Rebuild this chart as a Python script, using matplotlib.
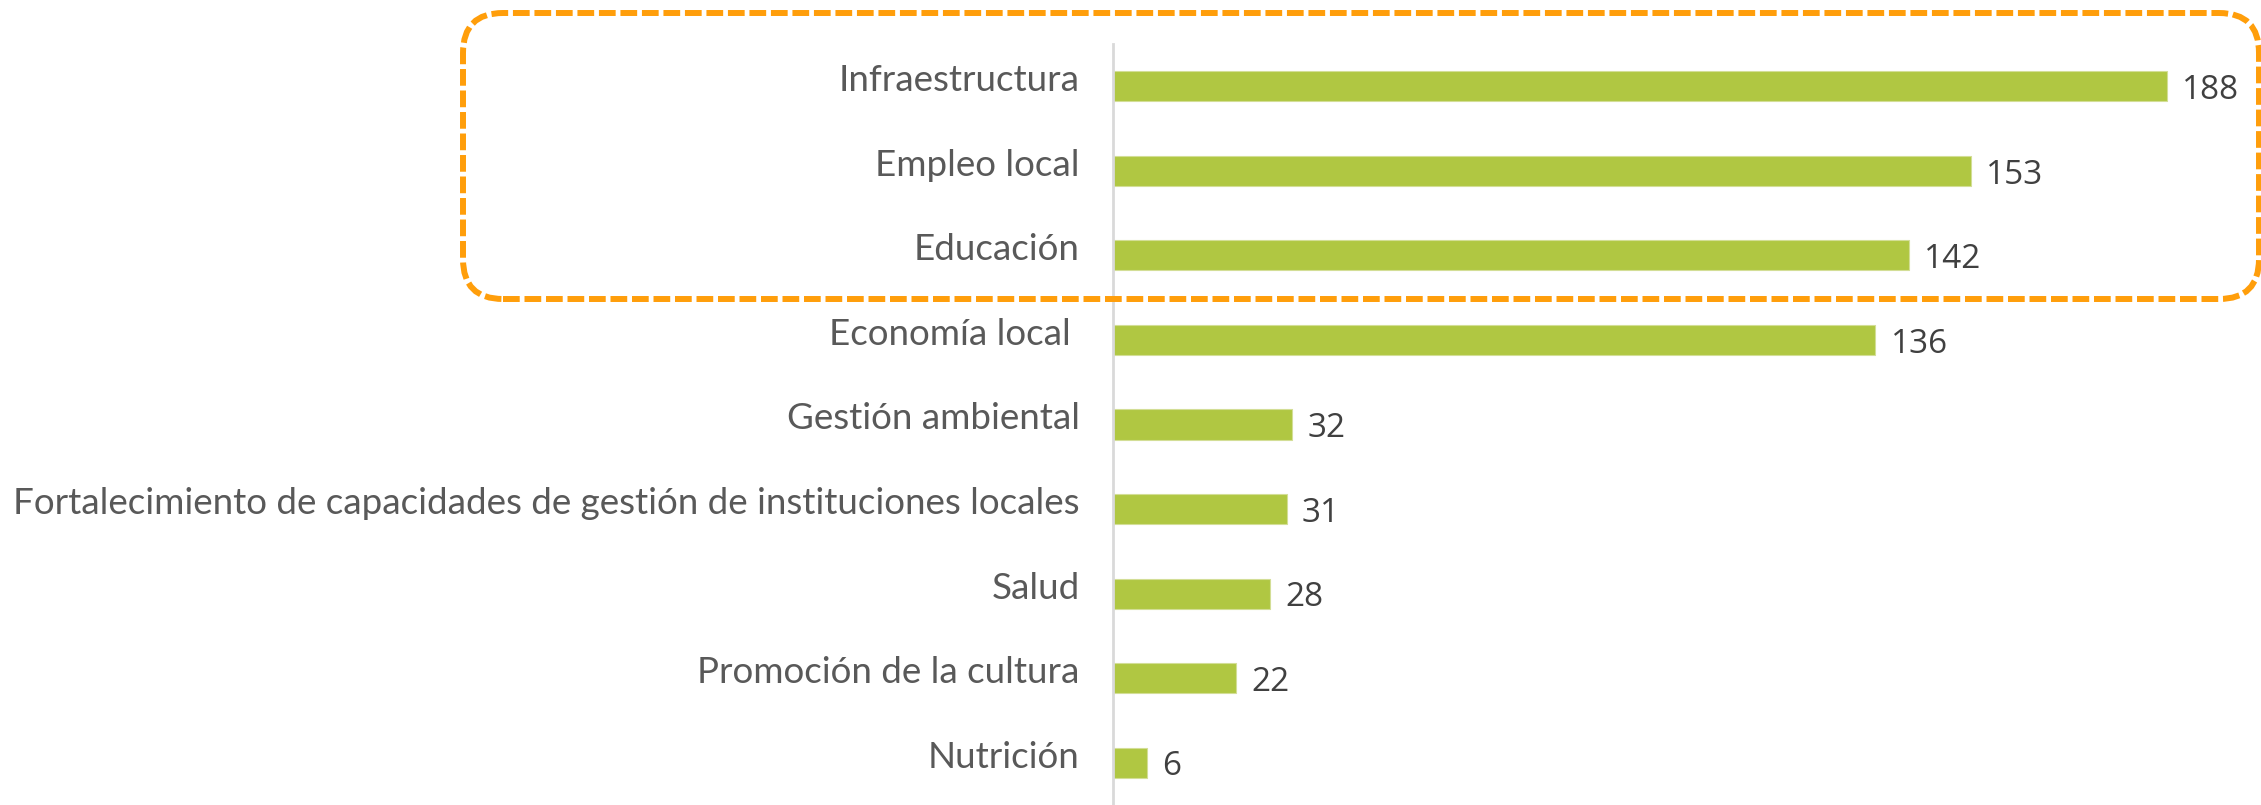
import matplotlib
matplotlib.use("Agg")
import matplotlib.pyplot as plt
from matplotlib.patches import FancyBboxPatch
from matplotlib.transforms import IdentityTransform

categories = ["Infraestructura", "Empleo local", "Educación", "Economía local ",
              "Gestión ambiental",
              "Fortalecimiento de capacidades de gestión de instituciones locales",
              "Salud", "Promoción de la cultura", "Nutrición"]
values = [188, 153, 142, 136, 32, 31, 28, 22, 6]

W, H = 2261, 805
fig = plt.figure(figsize=(W / 100, H / 100), dpi=100)
ax = fig.add_axes([1113 / W, 0.0, 1121 / W, 1 - 44 / H])

pos = list(range(len(categories)))
ax.barh(pos, values, height=0.355, color="#B0C742", edgecolor="#D3DE96", linewidth=0.8)
ax.set_ylim(len(categories) - 0.5, -0.5)
ax.set_xlim(0, 200)

ax.set_yticks([])
ax.set_xticks([])
for s in ["top", "right", "bottom"]:
    ax.spines[s].set_visible(False)
ax.spines["left"].set_color("#D9D9D9")
ax.spines["left"].set_linewidth(2)

ytrans = ax.get_yaxis_transform()
for p, c in zip(pos, categories):
    ax.annotate(c, xy=(0, p), xycoords=ytrans, xytext=(-24, 4), textcoords="offset points",
                va="center", ha="right", fontsize=26.5, color="#595959",
                family="Lato", fontweight="normal")

for p, v in zip(pos, values):
    ax.annotate(str(v), xy=(v, p), xytext=(11, -3), textcoords="offset points",
                va="center", ha="left", fontsize=24, color="#404040", family="Open Sans")

box = FancyBboxPatch((463, 506), 1796, 286, boxstyle="round,pad=0,rounding_size=40",
                     transform=IdentityTransform(), fill=False, edgecolor="#FF9E0B",
                     linewidth=4.3, linestyle=(0, (2.8, 0.8)))
fig.patches.append(box)

fig.savefig("out.png", dpi=100)
